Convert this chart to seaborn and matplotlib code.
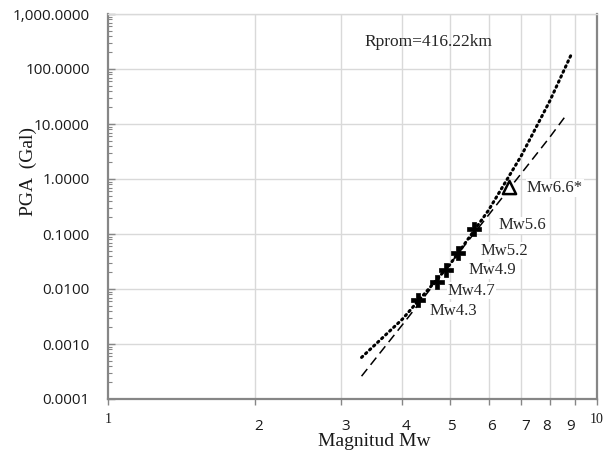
import numpy as np
import pandas as pd
import matplotlib
matplotlib.use("Agg")
import matplotlib.pyplot as plt
import seaborn as sns
from matplotlib.transforms import blended_transform_factory, offset_copy

# ---------------- data ----------------
obs_mw = [4.3, 4.7, 4.9, 5.2, 5.6]
obs_pga = [0.0063, 0.0136, 0.022, 0.046, 0.122]
obs_labels = ["Mw4.3", "Mw4.7", "Mw4.9", "Mw5.2", "Mw5.6"]

star_mw = [6.6]
star_pga = [0.72]
star_labels = ["Mw6.6*"]

dot_mw = [3.3, 4.0, 5.0, 6.0, 7.0, 8.0, 8.9]
dot_pga = [0.00057, 0.00283, 0.0277, 0.270, 2.64, 25.8, 201.0]

dash_mw = [3.3, 4.0, 5.0, 6.0, 7.0, 8.0, 8.65]
dash_pga = [0.00026, 0.00224, 0.0282, 0.221, 1.26, 5.7, 14.5]

xtick_vals = [1, 2, 3, 4, 5, 6, 7, 8, 9, 10]
xtick_labels = ["1", "2", "3", "4", "5", "6", "7", "8", "9", "10"]
ytick_vals = [0.0001, 0.001, 0.01, 0.1, 1, 10, 100, 1000]
ytick_labels = ["0.0001", "0.0010", "0.0100", "0.1000", "1.0000",
                "10.0000", "100.0000", "1,000.0000"]

annot_text = "Rprom=416.22km"
xlabel = "Magnitud Mw"
ylabel = "PGA  (Gal)"

# ---------------- style ----------------
sns.set_theme(style="white")
plt.rcParams["font.family"] = ["Liberation Serif", "DejaVu Serif"]

SANS = "Open Sans"
SERIF = "Liberation Serif"
AXC = "#868686"
GRIDC = "#d9d9d9"

fig = plt.figure(figsize=(6.06, 4.53), dpi=100)
ax = fig.add_axes([108 / 606, 54 / 453, 489 / 606, 385 / 453])
ax.set_xscale("log")
ax.set_yscale("log")
ax.set_xlim(1, 10)
ax.set_ylim(0.0001, 1000)

# grid
for v in xtick_vals[1:-1]:
    ax.axvline(v, color=GRIDC, lw=1.0, zorder=0)
for v in ytick_vals[1:]:
    ax.axhline(v, color=GRIDC, lw=1.0, zorder=0)

# lines
df_dot = pd.DataFrame({"Mw": dot_mw, "PGA": dot_pga})
df_dash = pd.DataFrame({"Mw": dash_mw, "PGA": dash_pga})
sns.lineplot(data=df_dot, x="Mw", y="PGA", ax=ax, color="black", lw=2.2,
             linestyle=(0, (0.5, 1.3)), sort=False, zorder=3)
ax.lines[-1].set_dash_capstyle("round")
sns.lineplot(data=df_dash, x="Mw", y="PGA", ax=ax, color="black", lw=1.1,
             linestyle=(0, (6, 3.5)), sort=False, zorder=3)

# points
df_obs = pd.DataFrame({"Mw": obs_mw, "PGA": obs_pga})
df_star = pd.DataFrame({"Mw": star_mw, "PGA": star_pga})
sns.scatterplot(data=df_obs, x="Mw", y="PGA", ax=ax, marker="P", s=90,
                color="black", edgecolor="black", linewidth=0.5, zorder=5)
sns.scatterplot(data=df_star, x="Mw", y="PGA", ax=ax, marker="^", s=90,
                facecolor="white", edgecolor="black", linewidth=1.8, zorder=5)

# point labels (offsets in pixels)
obs_offsets = [(12, -11), (11, -9), (23, 0), (22, 2), (25, 4)]
for m, p, lab, off in zip(obs_mw, obs_pga, obs_labels, obs_offsets):
    ax.annotate(lab, (m, p), xytext=off, textcoords="offset pixels",
                ha="left", va="center", fontsize=12, family=SERIF,
                bbox=dict(fc="white", ec="none", pad=0.5), zorder=4)
for m, p, lab in zip(star_mw, star_pga, star_labels):
    ax.annotate(lab, (m, p), xytext=(18, -1), textcoords="offset pixels",
                ha="left", va="center", fontsize=12, family=SERIF,
                bbox=dict(fc="white", ec="none", pad=0.5), zorder=4)

ax.text(0.5235, 0.928, annot_text, transform=ax.transAxes, ha="left",
        va="center", fontsize=12.5, family=SERIF)

# spines
for s in ["left", "bottom", "right"]:
    ax.spines[s].set_color(AXC)
    ax.spines[s].set_linewidth(1.6)
ax.spines["top"].set_color(GRIDC)
ax.spines["top"].set_linewidth(1.0)

# y ticks
ax.set_yticks(ytick_vals)
ax.set_yticklabels(ytick_labels, family=SANS, fontsize=11, color="#1a1a1a")
ax.yaxis.set_minor_locator(matplotlib.ticker.LogLocator(base=10, subs=np.arange(2, 10), numticks=20))
ax.yaxis.set_minor_formatter(matplotlib.ticker.NullFormatter())
ax.tick_params(axis="y", which="major", direction="in", length=5, width=1.0,
               color=AXC, pad=13, left=True)
ax.tick_params(axis="y", which="minor", direction="in", length=3, width=0.8,
               color=AXC, left=True)

# x ticks (labels drawn as text)
ax.set_xticks(xtick_vals)
ax.set_xticklabels([])
ax.xaxis.set_minor_locator(matplotlib.ticker.NullLocator())
ax.tick_params(axis="x", which="major", direction="out", length=4, width=1.0,
               color=AXC, bottom=True)

xlab_dx = [0, 3, 4, 4, 2, 3, 4, -3, -4, 0]
trans = blended_transform_factory(ax.transData, fig.transFigure)
for v, lab, dx in zip(xtick_vals, xtick_labels, xlab_dx):
    serif = lab in ("1", "10")
    ypix = 419.5 if serif else 426.5
    t = offset_copy(trans, fig=fig, x=dx, y=0, units="dots")
    ax.text(v, (453 - ypix) / 453, lab, transform=t, ha="center", va="center",
            family=SERIF if serif else SANS, fontsize=10 if serif else 11,
            color="#1a1a1a", clip_on=False)

ax.set_xlabel(xlabel, family=SERIF, fontsize=14, color="#1a1a1a", va="center")
ax.xaxis.set_label_coords((374 - 108) / 489, (399 - 441.5) / 385)
ax.set_ylabel(ylabel, family=SERIF, fontsize=14, color="#1a1a1a", va="center")
ax.yaxis.set_label_coords((28 - 108) / 489, (399 - 172) / 385)

fig.savefig("out.png", dpi=100)
